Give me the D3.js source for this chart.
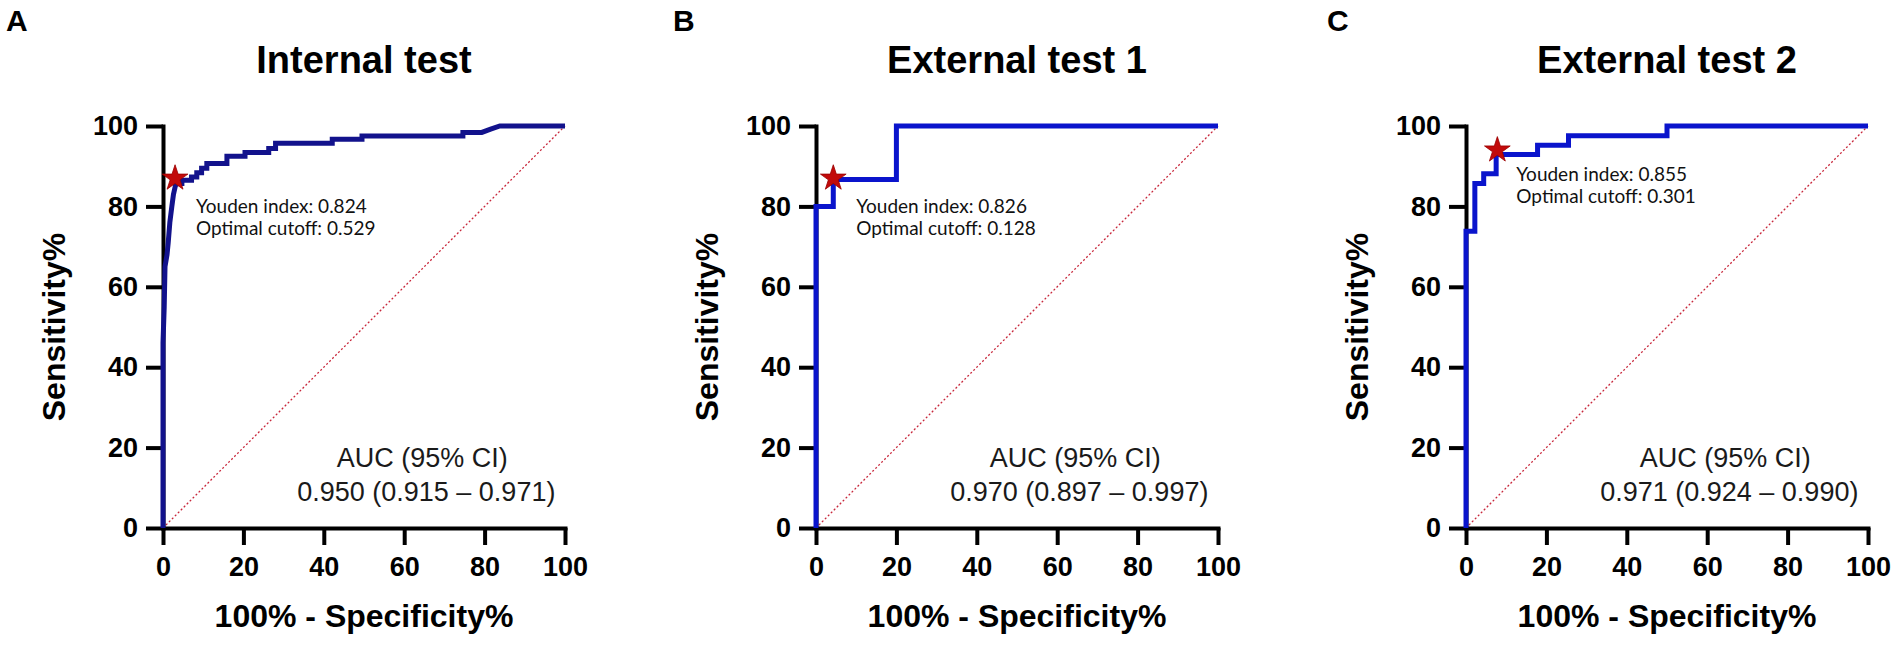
<!DOCTYPE html>
<html>
<head>
<meta charset="utf-8">
<script src="https://cdn.jsdelivr.net/npm/d3@7"></script>
<style>
  body { margin: 0; background: #fff; }
  svg { display: block; }
</style>
</head>
<body>
<svg id="fig"></svg>
<script>
// chart values
const panelLetters = ["A", "B", "C"];
const panelTitles = ["Internal test", "External test 1", "External test 2"];
const tickValues = [0, 20, 40, 60, 80, 100];

// ROC curves: 100% - specificity (x) and sensitivity (y), in percent
const fprInternal = [0, 0, 0.3, 0.5, 1.0, 1.3, 1.7, 2.2, 2.6, 3.1, 3.6, 4.7, 4.7, 7.1, 7.1, 8.4, 8.4, 9.6, 9.6, 10.9,
  10.9, 15.9, 15.9, 20.4, 20.4, 26.3, 26.3, 28.0, 28.0, 42.1, 42.1, 49.5, 49.5, 74.6, 74.6, 79.3, 81.5, 83.8, 100];
const tprInternal = [0, 46, 55, 65, 68, 71, 76, 80, 83, 85.2, 85.7, 85.7, 86.5, 86.5, 87.3, 87.3, 88.4, 88.4, 89.5, 89.5,
  90.7, 90.7, 92.5, 92.5, 93.4, 93.4, 94.4, 94.4, 95.7, 95.7, 96.7, 96.7, 97.5, 97.5, 98.4, 98.4, 99.2, 100, 100];

const fprExternal1 = [0, 0, 4.3, 4.3, 20, 20, 100];
const tprExternal1 = [0, 80, 80, 86.7, 86.7, 100, 100];

const fprExternal2 = [0, 0, 2.2, 2.2, 4.4, 4.4, 7.5, 7.5, 17.8, 17.8, 25.5, 25.5, 50, 50, 100];
const tprExternal2 = [0, 73.8, 73.8, 85.7, 85.7, 88.1, 88.1, 92.9, 92.9, 95.2, 95.2, 97.6, 97.6, 100, 100];

// Youden points (star) and their labels
const youdenFpr = [3.0, 4.3, 7.8];
const youdenTpr = [87.0, 87.0, 94.0];
const youdenIndex = ["0.824", "0.826", "0.855"];
const optimalCutoff = ["0.529", "0.128", "0.301"];

// AUC with 95% CI
const aucValues = ["0.950 (0.915 \u2013 0.971)", "0.970 (0.897 \u2013 0.997)", "0.971 (0.924 \u2013 0.990)"];

// chance line
const chanceLine = [0, 100];

const curveColors = ["#12128c", "#0a14cc", "#0a14cc"];

const W = 1902, H = 646;
const plotTop = 126, plotSize = 402;
const panelLeft = [163, 816, 1466];
const letterX = [6, 673, 1327];
// label offset from the star, px
const labelDx = [21, 23, 19], labelDy = [35, 35, 31];

const svg = d3.select("#fig").attr("width", W).attr("height", H);
svg.append("rect").attr("width", W).attr("height", H).attr("fill", "#fff");

const curves = [
  { fpr: fprInternal, tpr: tprInternal },
  { fpr: fprExternal1, tpr: tprExternal1 },
  { fpr: fprExternal2, tpr: tprExternal2 }
];

const xscale = d3.scaleLinear().domain([0, 100]).range([0, plotSize]);
const yscale = d3.scaleLinear().domain([0, 100]).range([plotSize, 0]);

const line = d3.line().x(d => xscale(d[0])).y(d => yscale(d[1]));
const star = d3.symbol().type(d3.symbolStar).size(205);

panelTitles.forEach((title, i) => {

  // panel letter
  svg.append("text")
    .attr("x", letterX[i])
    .attr("y", 31)
    .attr("font-family", "Liberation Sans, Arial, sans-serif")
    .attr("font-weight", "bold")
    .attr("font-size", 30)
    .text(panelLetters[i]);

  const g = svg.append("g")
    .attr("transform", `translate(${panelLeft[i]},${plotTop})`);

  // title
  g.append("text")
    .attr("x", plotSize / 2)
    .attr("y", -53)
    .attr("text-anchor", "middle")
    .attr("font-family", "Liberation Sans, Arial, sans-serif")
    .attr("font-weight", "bold")
    .attr("font-size", 38)
    .text(title);

  // chance diagonal
  g.append("path")
    .datum(chanceLine.map(v => [v, v]))
    .attr("d", line)
    .attr("fill", "none")
    .attr("stroke", "#c8283c")
    .attr("stroke-width", 1.3)
    .attr("stroke-dasharray", "2,2.2");

  // axes
  const xaxis = d3.axisBottom(xscale).tickValues(tickValues).tickSize(17).tickSizeOuter(0).tickPadding(12);
  const yaxis = d3.axisLeft(yscale).tickValues(tickValues).tickSize(17).tickSizeOuter(0).tickPadding(8);

  const gx = g.append("g").attr("transform", `translate(0,${plotSize})`).call(xaxis);
  const gy = g.append("g").call(yaxis);

  [gx, gy].forEach(a => {
    a.select(".domain").attr("stroke", "#000").attr("stroke-width", 4).attr("stroke-linecap", "square");
    a.selectAll(".tick line").attr("stroke", "#000").attr("stroke-width", 4);
    a.selectAll(".tick text")
      .attr("fill", "#000")
      .attr("font-family", "Liberation Sans, Arial, sans-serif")
      .attr("font-weight", "bold")
      .attr("font-size", 27);
  });

  // ROC curve
  const pts = curves[i].fpr.map((f, k) => [f, curves[i].tpr[k]]);
  g.append("path")
    .datum(pts)
    .attr("d", line)
    .attr("fill", "none")
    .attr("stroke", curveColors[i])
    .attr("stroke-width", 5)
    .attr("stroke-linejoin", "miter");

  // Youden star + label
  const sx = xscale(youdenFpr[i]), sy = yscale(youdenTpr[i]);
  g.append("path")
    .attr("d", star)
    .attr("transform", `translate(${sx},${sy})`)
    .attr("fill", "#c20a0a")
    .attr("stroke", "#9a0000")
    .attr("stroke-width", 0.8);

  const yl = g.append("text")
    .attr("font-family", "Lato, 'Noto Sans', sans-serif")
    .attr("font-size", 19)
    .attr("fill", "#111");
  yl.append("tspan").attr("x", sx + labelDx[i]).attr("y", sy + labelDy[i]).text("Youden index: " + youdenIndex[i]);
  yl.append("tspan").attr("x", sx + labelDx[i]).attr("y", sy + labelDy[i] + 22).text("Optimal cutoff: " + optimalCutoff[i]);

  // AUC text
  const at = g.append("text")
    .attr("text-anchor", "middle")
    .attr("font-family", "Liberation Sans, Arial, sans-serif")
    .attr("font-size", 27)
    .attr("fill", "#1a1a1a");
  at.append("tspan").attr("x", xscale(64.5)).attr("y", yscale(15.2)).text("AUC (95% CI)");
  at.append("tspan").attr("x", xscale(65.5)).attr("y", yscale(6.7)).text(aucValues[i]);

  // axis titles
  g.append("text")
    .attr("x", plotSize / 2)
    .attr("y", plotSize + 99)
    .attr("text-anchor", "middle")
    .attr("font-family", "Liberation Sans, Arial, sans-serif")
    .attr("font-weight", "bold")
    .attr("font-size", 32)
    .text("100% - Specificity%");

  g.append("text")
    .attr("transform", `translate(-98,${plotSize / 2}) rotate(-90)`)
    .attr("text-anchor", "middle")
    .attr("font-family", "Liberation Sans, Arial, sans-serif")
    .attr("font-weight", "bold")
    .attr("font-size", 32)
    .text("Sensitivity%");
});
</script>
</body>
</html>
